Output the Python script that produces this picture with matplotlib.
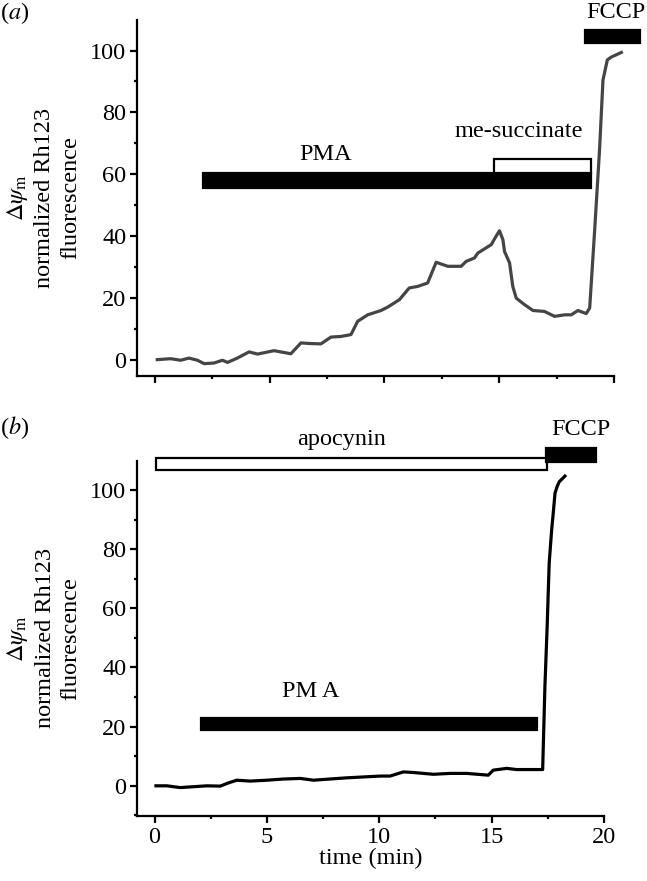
import matplotlib.pyplot as plt
from matplotlib.patches import Rectangle
from matplotlib.ticker import MultipleLocator

plt.rcParams['font.family'] = ['Liberation Serif', 'DejaVu Serif']
plt.rcParams['mathtext.fontset'] = 'stix'
plt.rcParams['font.size'] = 17.5

# panel (a): PMA then me-succinate, FCCP at the end
time_a = [0.10, 0.68, 1.12, 1.48, 1.85, 2.14, 2.57, 2.94, 3.16, 3.59, 4.10, 4.47,
          5.19, 5.92, 6.36, 6.79, 7.23, 7.67, 8.10, 8.54, 8.83, 9.27, 9.85, 10.14,
          10.65, 11.08, 11.45, 11.88, 12.25, 12.76, 13.34, 13.56, 13.92, 14.07,
          14.35, 14.65, 14.86, 15.01, 15.16, 15.23, 15.45, 15.59, 15.74, 16.10,
          16.47, 16.97, 17.41, 17.85, 18.14, 18.43, 18.79, 18.94, 19.15, 19.37,
          19.52, 19.71, 19.88, 20.32]
rh123_a = [0.0, 0.3, -0.2, 0.5, -0.2, -1.3, -1.1, -0.2, -0.9, 0.5, 2.5, 1.8,
           2.9, 1.9, 5.4, 5.2, 5.1, 7.3, 7.5, 8.1, 12.4, 14.5, 15.9, 17.0,
           19.4, 23.2, 23.7, 24.8, 31.5, 30.2, 30.2, 31.8, 32.9, 34.5,
           35.8, 37.2, 39.9, 41.7, 38.8, 35.0, 31.3, 23.7, 19.9, 17.8,
           15.9, 15.6, 14.0, 14.5, 14.5, 15.9, 14.9, 16.7, 41.0, 67.9,
           90.5, 97.0, 97.9, 99.4]

# panel (b): apocynin pre-treatment, PMA, FCCP
time_b = [0.06, 0.55, 1.14, 1.73, 2.33, 2.92, 3.29, 3.66, 4.26, 5.00, 5.74, 6.48,
          7.07, 7.81, 8.55, 9.29, 10.04, 10.48, 11.07, 11.52, 12.41, 13.15, 13.89,
          14.85, 15.07, 15.67, 16.11, 16.71, 17.27, 17.37, 17.47, 17.56, 17.67,
          17.74, 17.82, 17.91, 18.01, 18.26]
rh123_b = [0.0, 0.0, -0.6, -0.3, 0.0, -0.1, 1.0, 1.9, 1.6, 1.9, 2.3, 2.5,
           1.9, 2.3, 2.7, 3.0, 3.3, 3.3, 4.7, 4.5, 3.9, 4.2, 4.2,
           3.6, 5.3, 5.9, 5.5, 5.5, 5.5, 33.5, 53.8, 75.2, 86.5,
           92.1, 98.9, 101.1, 102.8, 104.7]

# treatment periods (min)
pma_a = (2.1, 19.0)
succinate_a = (14.75, 19.0)
fccp_a = (18.75, 21.15)
apocynin_b = (0.05, 17.45)
pma_b = (2.08, 17.0)
fccp_b = (17.42, 19.63)


def _add_bar(ax, period, y0, y1, filled=True):
    # treatment bar drawn in data coordinates, allowed to leave the axes
    ax.add_patch(Rectangle((period[0], y0), period[1] - period[0], y1 - y0,
                           facecolor='black' if filled else 'white',
                           edgecolor='black', lw=1.6, clip_on=False))


def _style_axes(ax, ylim, show_xlabels):
    ax.set_xlim(-0.77, 20.0)
    ax.set_ylim(*ylim)
    for side in ['top', 'right']:
        ax.spines[side].set_visible(False)
    for side in ['left', 'bottom']:
        ax.spines[side].set_linewidth(1.6)
    ax.xaxis.set_major_locator(MultipleLocator(5))
    ax.xaxis.set_minor_locator(MultipleLocator(2.5))
    ax.yaxis.set_major_locator(MultipleLocator(20))
    ax.yaxis.set_minor_locator(MultipleLocator(10))
    ax.tick_params(which='major', length=5, width=1.6, pad=3)
    ax.tick_params(which='minor', length=2.5, width=1.6)
    ax.set_yticks([0, 20, 40, 60, 80, 100])
    if not show_xlabels:
        ax.tick_params(axis='x', labelbottom=False)
    ax.set_ylabel('$\\Delta\\psi_{\\rm m}$\nnormalized Rh123\nfluorescence',
                  linespacing=1.3, va='center')


fig = plt.figure(figsize=(6.47, 8.81), dpi=100)
W, H = 647.0, 881.0
ax_a = fig.add_axes([137.3 / W, 1 - 375.7 / H, 476.7 / W, 355.7 / H])
ax_b = fig.add_axes([137.3 / W, 1 - 816 / H, 466.7 / W, 355.3 / H])

# panel (a)
ax_a.plot(time_a, rh123_a, color='#454545', lw=2.3, clip_on=False)
_add_bar(ax_a, pma_a, 55.5, 60.4)
_add_bar(ax_a, succinate_a, 60.4, 65.0, filled=False)
_add_bar(ax_a, fccp_a, 102.4, 106.7)
ax_a.text(7.45, 64.7, 'PMA', ha='center', va='baseline')
ax_a.text(15.85, 72.2, 'me-succinate', ha='center', va='baseline')
ax_a.text(20.1, 110.6, 'FCCP', ha='center', va='baseline')
_style_axes(ax_a, (-5.2, 109.9), False)
ax_a.yaxis.set_label_coords(-0.198, 0.5)

# panel (b)
ax_b.plot(time_b, rh123_b, color='black', lw=2.3, clip_on=False)
_add_bar(ax_b, apocynin_b, 106.8, 110.7, filled=False)
_add_bar(ax_b, pma_b, 18.8, 23.0)
_add_bar(ax_b, fccp_b, 109.6, 114.1)
ax_b.text(8.33, 115.2, 'apocynin', ha='center', va='baseline')
ax_b.text(6.96, 30.1, 'PM A', ha='center', va='baseline')
ax_b.text(18.96, 118.6, 'FCCP', ha='center', va='baseline')
_style_axes(ax_b, (-10.2, 109.9), True)
ax_b.yaxis.set_label_coords(-0.202, 0.5)
ax_b.set_xlabel('time (min)', labelpad=0)

# panel letters
fig.text(0.0, 1.0, '($\\mathit{a}$)', ha='left', va='top')
fig.text(0.0, 1 - 414 / H, '($\\mathit{b}$)', ha='left', va='top')

fig.savefig('out.png', dpi=100)
